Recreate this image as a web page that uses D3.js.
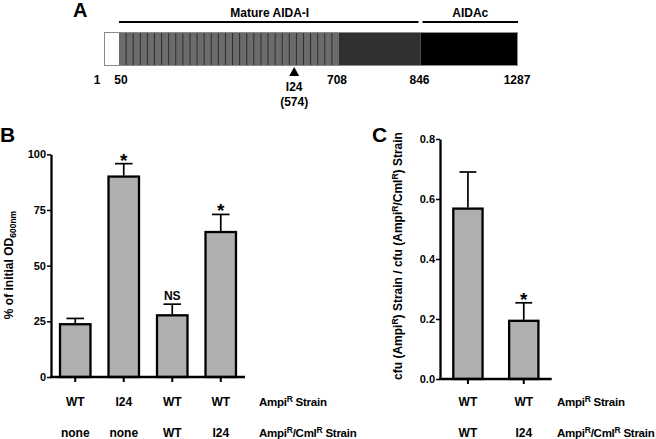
<!DOCTYPE html>
<html><head><meta charset="utf-8">
<script src="https://cdn.jsdelivr.net/npm/d3@7"></script>
<style>
body{margin:0;background:#fff;}
svg{display:block;font-family:"Liberation Sans",Arial,sans-serif;font-weight:bold;}
</style></head>
<body><svg id="c" width="656" height="439"></svg>
<script>
// ---------- Panel A data ----------
const aBreakpoints = [1, 50, 708, 846, 1287];
const aSegStart = [1, 50, 708, 846];
const aSegEnd = [50, 708, 846, 1287];
const aRegionNames = ["Mature AIDA-I", "AIDAc"];
const aRegionStart = [50, 846];
const aRegionEnd = [846, 1287];
const aStripeCount = 31;
const aInsertName = "I24";
const aInsertPos = 574;

// ---------- Panel B data ----------
const bAmpi = ["WT", "I24", "WT", "WT"];
const bAmpiCml = ["none", "none", "WT", "I24"];
const bValues = [23.7, 90.0, 27.7, 65.1];
const bErrors = [2.6, 5.8, 5.0, 7.9];
const bSig = ["", "*", "NS", "*"];
const bTicks = [0, 25, 50, 75, 100];

// ---------- Panel C data ----------
const cAmpi = ["WT", "WT"];
const cAmpiCml = ["WT", "I24"];
const cValues = [0.568, 0.194];
const cErrors = [0.122, 0.060];
const cSig = ["", "*"];
const cTicks = [0.0, 0.2, 0.4, 0.6, 0.8];

const svg = d3.select("#c");
const FS = 12;

// ================= Panel A =================
const ax = d3.scaleLinear().domain(aBreakpoints).range([104, 119, 339, 420.5, 518]);
const aTop = 32, aBot = 66;
const A = svg.append("g");
A.append("text").attr("x", 73).attr("y", 17).attr("font-size", 20).text("A");

const segFill = ["#ffffff", "#6b6b6b", "#303030", "#000000"];
A.selectAll("rect.seg").data(aSegStart).join("rect")
  .attr("x", (d) => ax(d))
  .attr("width", (d, i) => ax(aSegEnd[i]) - ax(d))
  .attr("y", aTop).attr("height", aBot - aTop)
  .attr("fill", (d, i) => segFill[i]);
const stripeScale = d3.scaleLinear().domain([0, aStripeCount]).range([ax(50), ax(708)]);
A.selectAll("line.stripe").data(d3.range(1, aStripeCount)).join("line")
  .attr("x1", (d) => stripeScale(d)).attr("x2", (d) => stripeScale(d))
  .attr("y1", aTop).attr("y2", aBot)
  .attr("stroke", "#2e2e2e").attr("stroke-width", 1);
A.append("rect").attr("x", ax(1) + 0.5).attr("y", aTop + 0.5)
  .attr("width", ax(1287) - ax(1) - 1).attr("height", aBot - aTop - 1)
  .attr("fill", "none").attr("stroke", "#8a8a8a").attr("stroke-width", 1);

// region brackets
const regX1 = (i) => ax(aRegionStart[i]) + (i ? 2 : 0);
const regX2 = (i) => ax(aRegionEnd[i]) - (i ? 0 : 2);
A.selectAll("line.reg").data(aRegionNames).join("line")
  .attr("x1", (d, i) => regX1(i)).attr("x2", (d, i) => regX2(i))
  .attr("y1", 22).attr("y2", 22).attr("stroke", "#000").attr("stroke-width", 2);
A.selectAll("text.reg").data(aRegionNames).join("text")
  .attr("x", (d, i) => (regX1(i) + regX2(i)) / 2 + (i ? 0 : 1))
  .attr("y", 17).attr("text-anchor", "middle").attr("font-size", FS).text((d) => d);

// position labels
const posOffset = [-7, 2, -2, -1, -1];
A.selectAll("text.pos").data(aBreakpoints).join("text")
  .attr("x", (d, i) => ax(d) + posOffset[i]).attr("y", 84)
  .attr("text-anchor", "middle").attr("font-size", FS).text((d) => d);

// insertion marker
const ix = ax(aInsertPos);
A.append("path").attr("d", `M${ix},67L${ix - 5},76L${ix + 5},76Z`).attr("fill", "#000");
A.append("text").attr("x", ix).attr("y", 91).attr("text-anchor", "middle").attr("font-size", FS).text(aInsertName);
A.append("text").attr("x", ix).attr("y", 106).attr("text-anchor", "middle").attr("font-size", FS).text("(" + aInsertPos + ")");

// ================= helper for bar panels =================
function strainLabel(g, x, y, anchor, parts) {
  const t = g.append("text").attr("x", x).attr("y", y).attr("font-size", 11.5)
    .attr("letter-spacing", "-0.25px").attr("text-anchor", anchor);
  parts.forEach((p) => {
    if (p.sup) t.append("tspan").attr("dy", -4).attr("font-size", 8.5).text(p.t);
    else t.append("tspan").attr("dy", p.reset || 0).text(p.t);
  });
  return t;
}

function barPanel(opts) {
  const g = svg.append("g");
  const x = d3.scaleBand().domain(d3.range(opts.values.length))
    .range(opts.xr).paddingInner(opts.pin).paddingOuter(opts.pin / 2);
  const y = d3.scaleLinear().domain(opts.yd).range(opts.yr);

  g.selectAll("rect.bar").data(opts.values).join("rect")
    .attr("x", (d, i) => x(i) + 1).attr("width", x.bandwidth() - 2)
    .attr("y", (d) => y(d)).attr("height", (d) => y(opts.yd[0]) - y(d))
    .attr("fill", "#afafaf").attr("stroke", "#000").attr("stroke-width", 2.3);
  const cap = x.bandwidth() * 0.27;
  g.selectAll("line.eb").data(opts.values).join("line")
    .attr("x1", (d, i) => x(i) + x.bandwidth() / 2).attr("x2", (d, i) => x(i) + x.bandwidth() / 2)
    .attr("y1", (d) => y(d) - 1).attr("y2", (d, i) => y(d + opts.err[i]))
    .attr("stroke", "#000").attr("stroke-width", 1.7);
  g.selectAll("line.cap").data(opts.values).join("line")
    .attr("x1", (d, i) => x(i) + x.bandwidth() / 2 - cap).attr("x2", (d, i) => x(i) + x.bandwidth() / 2 + cap)
    .attr("y1", (d, i) => y(d + opts.err[i])).attr("y2", (d, i) => y(d + opts.err[i]))
    .attr("stroke", "#000").attr("stroke-width", 1.7);
  g.selectAll("text.sig").data(opts.sig).join("text")
    .attr("x", (d, i) => x(i) + x.bandwidth() / 2)
    .attr("y", (d, i) => y(opts.values[i] + opts.err[i]) - (d === "*" ? -3 : 4))
    .attr("text-anchor", "middle").attr("font-size", (d) => d === "*" ? 19 : FS).text((d) => d);

  const yAxis = d3.axisLeft(y).tickValues(opts.ticks).tickFormat(opts.fmt).tickSize(4).tickSizeOuter(0).tickPadding(1);
  const ya = g.append("g").attr("transform", `translate(${opts.xr[0]},0)`).call(yAxis);
  ya.select(".domain").attr("stroke-width", 2.3);
  ya.selectAll(".tick line").attr("stroke-width", 1.5);
  ya.selectAll(".tick text").attr("font-size", 11).attr("font-family", "Liberation Sans, Arial").attr("font-weight", "bold").attr("fill", "#000");

  const xAxis = d3.axisBottom(x).tickFormat("").tickSize(5).tickSizeOuter(0);
  const xa = g.append("g").attr("transform", `translate(0,${opts.yr[0]})`).call(xAxis);
  xa.select(".domain").attr("stroke-width", 2.3).attr("d", `M${opts.xr[0] - 1},0H${opts.xr[1]}`);
  xa.selectAll(".tick line").attr("stroke-width", 2);

  g.selectAll("text.r1").data(opts.row1).join("text")
    .attr("x", (d, i) => x(i) + x.bandwidth() / 2).attr("y", 406)
    .attr("text-anchor", "middle").attr("font-size", FS).text((d) => d);
  g.selectAll("text.r2").data(opts.row2).join("text")
    .attr("x", (d, i) => x(i) + x.bandwidth() / 2).attr("y", 437)
    .attr("text-anchor", "middle").attr("font-size", FS).text((d) => d);
  strainLabel(g, opts.legendX, 406, "start", [{ t: "Ampi" }, { t: "R", sup: true }, { t: " Strain", reset: 4 }]);
  strainLabel(g, opts.legendX, 437, "start", [{ t: "Ampi" }, { t: "R", sup: true }, { t: "/Cml", reset: 4 }, { t: "R", sup: true }, { t: " Strain", reset: 4 }]);
  return g;
}

// ================= Panel B =================
svg.append("text").attr("x", 0).attr("y", 142).attr("font-size", 21).text("B");
barPanel({
  values: bValues, err: bErrors, sig: bSig, row1: bAmpi, row2: bAmpiCml,
  xr: [51, 245], pin: 0.33, yd: [0, 100], yr: [377, 154.3], ticks: bTicks,
  fmt: d3.format("d"), legendX: 259
});
const bl = svg.append("text").attr("transform", "translate(13,265) rotate(-90)")
  .attr("text-anchor", "middle").attr("font-size", FS);
bl.append("tspan").text("% of initial OD");
bl.append("tspan").attr("dy", 3).attr("font-size", 8.5).text("600nm");

// ================= Panel C =================
svg.append("text").attr("x", 372).attr("y", 142).attr("font-size", 21).text("C");
barPanel({
  values: cValues, err: cErrors, sig: cSig, row1: cAmpi, row2: cAmpiCml,
  xr: [440, 551.7], pin: 0.44, yd: [0, 0.8], yr: [379, 139], ticks: cTicks,
  fmt: d3.format(".1f"), legendX: 557
});
const cl = svg.append("text").attr("transform", "translate(402,256) rotate(-90)")
  .attr("text-anchor", "middle").attr("font-size", FS);
cl.append("tspan").text("cfu (Ampi");
cl.append("tspan").attr("dy", -4).attr("font-size", 8.5).text("R");
cl.append("tspan").attr("dy", 4).text(") Strain / cfu (Ampi");
cl.append("tspan").attr("dy", -4).attr("font-size", 8.5).text("R");
cl.append("tspan").attr("dy", 4).text("/Cml");
cl.append("tspan").attr("dy", -4).attr("font-size", 8.5).text("R");
cl.append("tspan").attr("dy", 4).text(") Strain");
</script></body></html>
